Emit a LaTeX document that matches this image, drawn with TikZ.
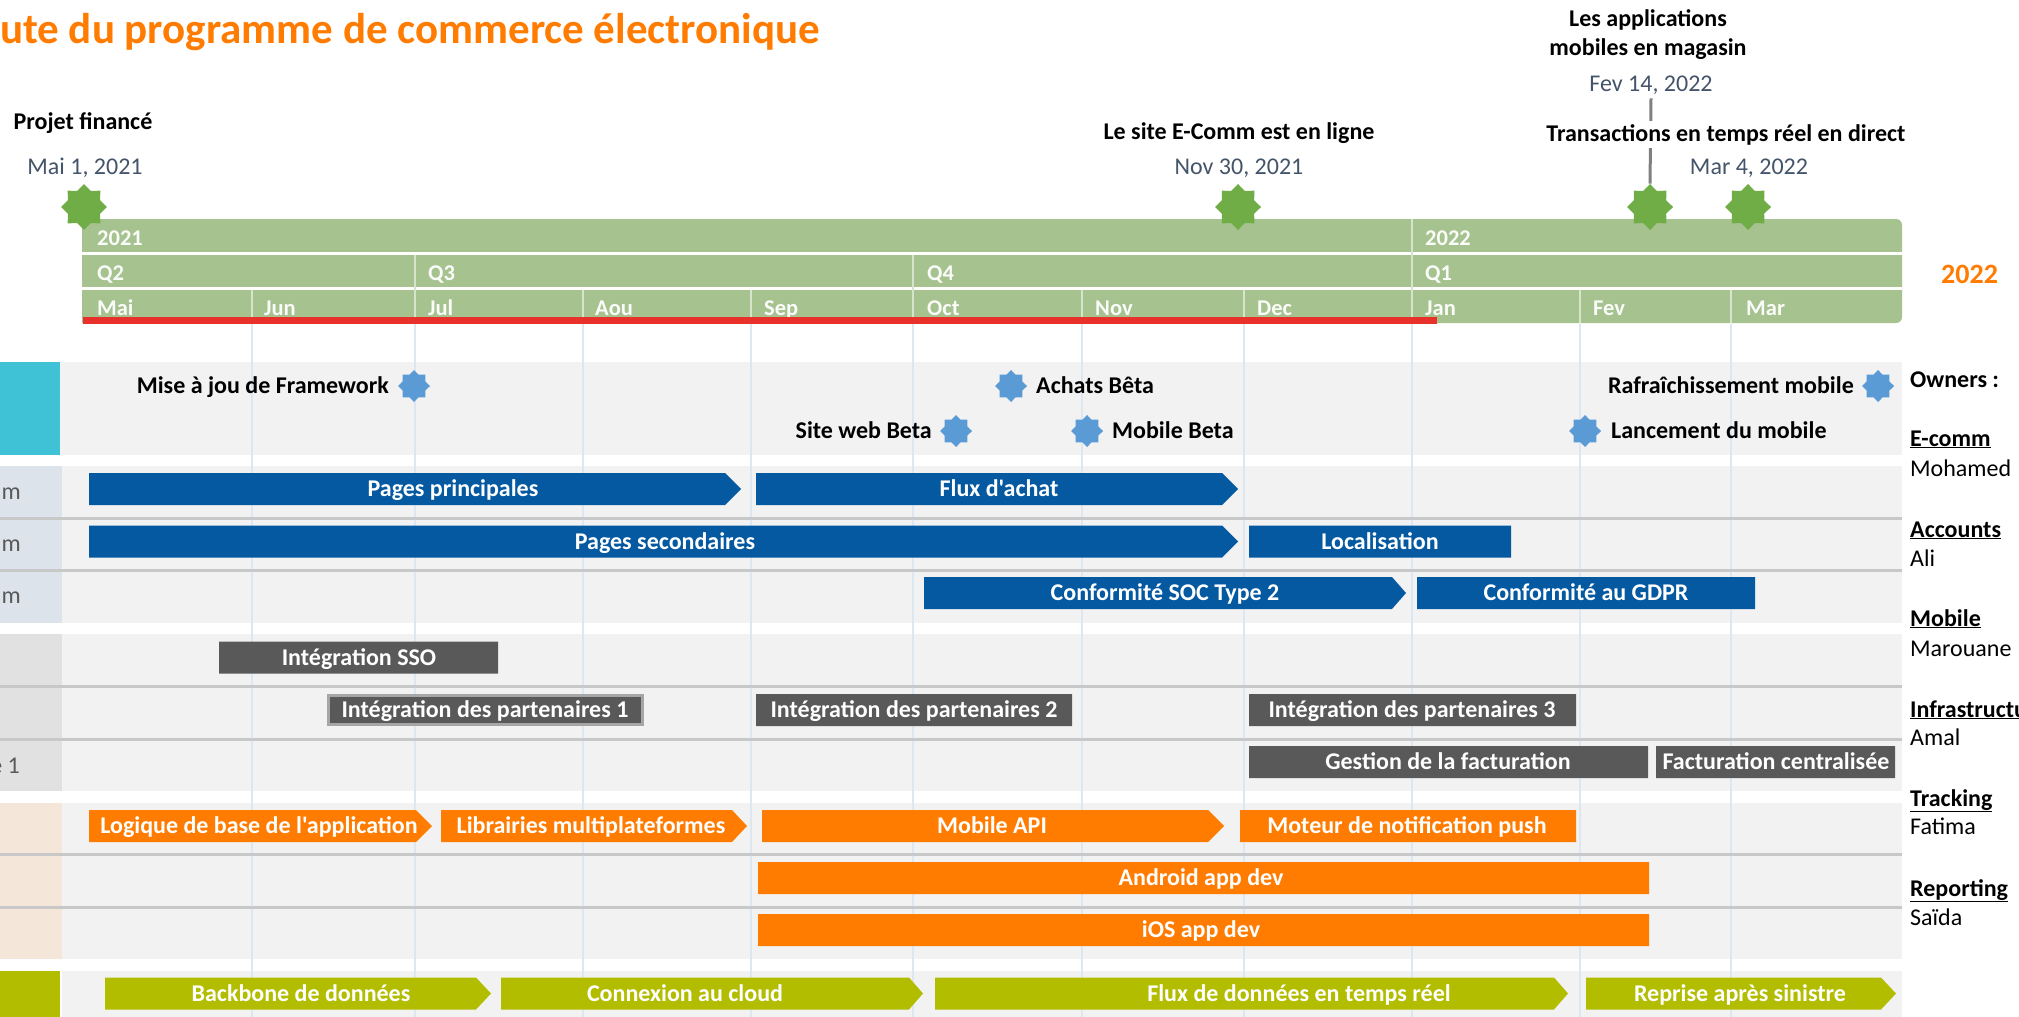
\documentclass[tikz,border=0pt]{standalone}
\usepackage{fontspec}
\setmainfont{Carlito}[Ligatures=TeXOff]
\usetikzlibrary{shapes.geometric}
\definecolor{orng}{HTML}{FF7C00}
\definecolor{hdr}{HTML}{A5C28F}
\definecolor{gstarc}{HTML}{70AD47}
\definecolor{bstarc}{HTML}{5B9BD5}
\definecolor{blu}{HTML}{0459A1}
\definecolor{dgr}{HTML}{595959}
\definecolor{olv}{HTML}{B3BD00}
\definecolor{lanec}{HTML}{F2F2F2}
\definecolor{ecol}{HTML}{DCE3EB}
\definecolor{icol}{HTML}{E1E1E1}
\definecolor{mcol}{HTML}{F5E6DA}
\definecolor{cyanc}{HTML}{40C2D6}
\definecolor{gridc}{HTML}{DDE7F2}
\definecolor{sepc}{HTML}{C8C8C8}
\definecolor{datec}{HTML}{44546A}
\definecolor{redc}{HTML}{E8312A}
\definecolor{connc}{HTML}{808080}
\newcommand\fsz[1]{\fontsize{#1}{#1}\selectfont}
\newcommand\gbar[8]{%
  \fill[#5] (#2,#4-16) -- (#3-#8,#4-16) -- (#3,#4) -- (#3-#8,#4+16) -- (#2,#4+16) -- cycle;
  \node[bartxt] (#1) at (#7,#4+7.7) {#6};}
\begin{document}
\begin{tikzpicture}[x=1pt,y=-1pt,
  bartxt/.style={anchor=base,inner sep=0pt,text=white,font=\fsz{24}\bfseries},
  hlbl/.style={anchor=base west,inner sep=0pt,text=white!95!hdr,font=\fsz{22.5}\bfseries},
  hdiv/.style={draw=white!55!hdr,line width=2pt},
  gstar/.style={star,star points=8,star point ratio=1.31,minimum size=46pt,inner sep=0pt,fill=gstarc,draw=none},
  bstar/.style={star,star points=8,star point ratio=1.31,minimum size=32pt,inner sep=0pt,fill=bstarc,draw=none},
  mlabel/.style={anchor=base,inner sep=0pt,text=black,font=\fsz{24}\bfseries},
  mdate/.style={anchor=base,inner sep=0pt,text=datec,font=\fsz{24}},
  blabel/.style={inner sep=0pt,text=black,font=\fsz{24}\bfseries},
  ownh/.style={anchor=base west,inner sep=0pt,text=black,font=\fsz{24}\bfseries},
  ownn/.style={anchor=base west,inner sep=0pt,text=black,font=\fsz{24}},
  sidel/.style={anchor=east,inner sep=0pt,text=dgr,font=\fsz{24}},
  sep/.style={draw=sepc,line width=3pt},
  gridl/.style={draw=gridc,line width=2pt},
  conn/.style={draw=connc,line width=3pt}]
\useasboundingbox (0,0) rectangle (2019,1017);
\fill[white] (0,0) rectangle (2019,1017);
% title
\node[anchor=base west,inner sep=0pt,text=orng,font=\fsz{43}\bfseries] (title) at (0,43) {ute du programme de commerce électronique};
% header band
\fill[hdr,rounded corners=6pt] (82,219) rectangle (1902,323);
\fill[hdr] (82,219) rectangle (1880,323);
\fill[white] (82,252) rectangle (1902,254.5);
\fill[white] (82,287) rectangle (1902,290);
\foreach \x in {252,583,751,1082,1244,1580,1731} \draw[hdiv] (\x,290) -- (\x,323);
\foreach \x in {415,913} \draw[hdiv] (\x,254.5) -- (\x,323);
\draw[hdiv] (1412,219) -- (1412,323);
\node[hlbl] (y21) at (97,245) {2021};
\node[hlbl] (y22) at (1425,245) {2022};
\foreach \x/\t in {97/Q2,428/Q3,927/Q4,1425/Q1} \node[hlbl] (q\x) at (\x,280) {\t};
\foreach \x/\t in {97/Mai,264/Jun,428/Jul,595/Aou,764/Sep,927/Oct,1095/Nov,1257/Dec,1425/Jan,1593/Fev,1746/Mar} \node[hlbl] (mo\x) at (\x,315) {\t};
\fill[redc] (83,317) rectangle (1437,324);
\node[anchor=base west,inner sep=0pt,text=orng,font=\fsz{28}\bfseries] (yr) at (1941,283) {2022};
% swimlane backgrounds
\fill[cyanc] (0,362) rectangle (60,455);
\fill[lanec] (60,362) rectangle (1902,455);
\fill[ecol] (0,466) rectangle (62,623);
\fill[lanec] (62,466) rectangle (1902,623);
\fill[icol] (0,634) rectangle (62,791);
\fill[lanec] (62,634) rectangle (1902,791);
\fill[mcol] (0,803) rectangle (62,959);
\fill[lanec] (62,803) rectangle (1902,959);
\fill[olv] (0,971) rectangle (60,1017);
\fill[lanec] (62,971) rectangle (1902,1017);
% grid lines
\foreach \x in {252,415,583,751,913,1082,1244,1412,1580,1731} \draw[gridl] (\x,324) -- (\x,1017);
% row separators
\foreach \y in {518,570,686,739,854,907} \draw[sep] (0,\y) -- (1902,\y);
% side partial labels
\node[sidel] (s1) at (21,494) {m};
\node[sidel] (s2) at (21,546) {m};
\node[sidel] (s3) at (21,598) {m};
\node[sidel] (s4) at (20,766) {e 1};
% bars: E-comm
\gbar{pp}{89}{741}{489}{blu}{Pages principales}{453}{16}
\gbar{fa}{756}{1238}{489}{blu}{Flux d'achat}{999}{16}
\gbar{ps}{89}{1238}{541.5}{blu}{Pages secondaires}{665}{16}
\gbar{loc}{1249}{1511}{541.5}{blu}{Localisation}{1380}{0}
\gbar{soc}{924}{1406}{593}{blu}{Conformité SOC Type 2}{1165}{14}
\gbar{gdpr}{1417}{1755}{593}{blu}{Conformité au GDPR}{1586}{0}
% bars: infrastructure
\gbar{sso}{219}{498}{657.5}{dgr}{Intégration SSO}{359}{0}
\fill[dgr,draw=black!35,line width=3pt] (328.5,695.5) rectangle (642.5,724.5);
\node[bartxt] (p1) at (485,717.7) {Intégration des partenaires 1};
\gbar{p2}{756}{1072}{710}{dgr}{Intégration des partenaires 2}{914}{0}
\gbar{p3}{1249}{1576}{710}{dgr}{Intégration des partenaires 3}{1412}{0}
\gbar{gf}{1249}{1648}{762}{dgr}{Gestion de la facturation}{1448}{0}
\gbar{fc}{1656}{1895}{762}{dgr}{Facturation centralisée}{1776}{0}
% bars: mobile
\gbar{lb}{89}{432}{826}{orng}{Logique de base de l'application}{259}{16}
\gbar{lm}{441}{747}{826}{orng}{Librairies multiplateformes}{591}{15}
\gbar{api}{762}{1224}{826}{orng}{Mobile API}{992}{16}
\gbar{push}{1240}{1576}{826}{orng}{Moteur de notification push}{1407}{0}
\gbar{and}{758}{1649}{878}{orng}{Android app dev}{1201}{0}
\gbar{ios}{758}{1649}{930}{orng}{iOS app dev}{1201}{0}
% bars: data
\gbar{bb}{105}{491}{993.5}{olv}{Backbone de données}{301}{15}
\gbar{cc}{501}{923}{993.5}{olv}{Connexion au cloud}{685}{14}
\gbar{fd}{935}{1568}{993.5}{olv}{Flux de données en temps réel}{1299}{14}
\gbar{rs}{1586}{1896}{993.5}{olv}{Reprise après sinistre}{1740}{15}
% blue milestones
\node[bstar] (b1) at (414,386) {};
\node[blabel,anchor=base east] (b1t) at (389,393.5) {Mise à jou de Framework};
\node[bstar] (b2) at (1011,386) {};
\node[blabel,anchor=base west] (b2t) at (1036,393.5) {Achats Bêta};
\node[bstar] (b3) at (956,431) {};
\node[blabel,anchor=base east] (b3t) at (932,438.5) {Site web Beta};
\node[bstar] (b4) at (1087,431) {};
\node[blabel,anchor=base west] (b4t) at (1112,438.5) {Mobile Beta};
\node[bstar] (b5) at (1878,386) {};
\node[blabel,anchor=base east] (b5t) at (1854,393.5) {Rafraîchissement mobile};
\node[bstar] (b6) at (1585,431) {};
\node[blabel,anchor=base west] (b6t) at (1611,438.5) {Lancement du mobile};
% top milestones
\node[gstar] (m1) at (84,207) {};
\node[mlabel] (m1t) at (83,129) {Projet financé};
\node[mdate] (m1d) at (85,174) {Mai 1, 2021};
\node[gstar] (m2) at (1238,207) {};
\node[mlabel] (m2t) at (1239,139) {Le site E-Comm est en ligne};
\node[mdate] (m2d) at (1239,174) {Nov 30, 2021};
\node[gstar] (m3) at (1650,207) {};
\node[mlabel] (m3a) at (1648,27) {Les applications};
\node[mlabel] (m3b) at (1648,55) {mobiles en magasin};
\node[mdate] (m3d) at (1651,91) {Fev 14, 2022};
\draw[conn] ([yshift=-4pt]m3d.south) -- (m3.north);
\node[mlabel,fill=white,inner xsep=0pt,inner ysep=3pt] (m4t) at (1726,141) {Transactions en temps réel en direct};
\node[gstar] (m4) at (1748,207) {};
\node[mdate] (m4d) at (1749,174) {Mar 4, 2022};
% owners
\node[ownh] (ow) at (1910,387) {Owners :};
\node[ownh] (o1) at (1910,446) {\underline{E-comm}};
\node[ownn] (o1n) at (1910,476) {Mohamed};
\node[ownh] (o2) at (1910,537) {\underline{Accounts}};
\node[ownn] (o2n) at (1910,566) {Ali};
\node[ownh] (o3) at (1910,626) {\underline{Mobile}};
\node[ownn] (o3n) at (1910,656) {Marouane};
\node[ownh] (o4) at (1910,717) {\underline{Infrastructure}};
\node[ownn] (o4n) at (1910,745) {Amal};
\node[ownh] (o5) at (1910,806) {\underline{Tracking}};
\node[ownn] (o5n) at (1910,834) {Fatima};
\node[ownh] (o6) at (1910,896) {\underline{Reporting}};
\node[ownn] (o6n) at (1910,925) {Saïda};
\end{tikzpicture}
\end{document}
